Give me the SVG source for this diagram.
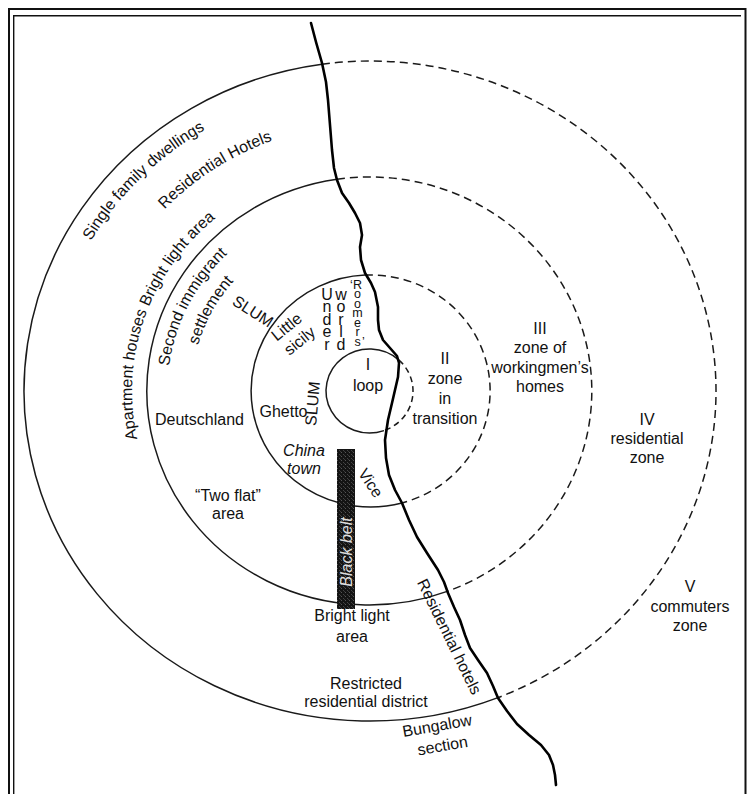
<svg xmlns="http://www.w3.org/2000/svg" width="751" height="794" viewBox="0 0 751 794">
<style>
.t{font-family:"Liberation Sans",Arial,sans-serif;font-size:16px;fill:#111;}
.c{text-anchor:middle;}
.i{font-style:italic;}
.sm{font-size:12.5px;}
.solid{fill:none;stroke:#1a1a1a;stroke-width:1.5;}
.dash{fill:none;stroke:#1a1a1a;stroke-width:1.5;stroke-dasharray:8 5;}
.river{fill:none;stroke:#000;stroke-width:2.6;stroke-linejoin:round;stroke-linecap:round;}
</style>
<defs>
<pattern id="speckle" width="4" height="4" patternUnits="userSpaceOnUse">
<rect width="4" height="4" fill="#141414"/>
<rect x="1" y="0" width="1" height="1" fill="#555"/>
<rect x="3" y="2" width="1" height="1" fill="#444"/>
<rect x="0" y="3" width="1" height="1" fill="#3a3a3a"/>
</pattern>
<path id="pSingle" d="M 59.0 317.3 A 320.5 304.5 0 0 1 281.7 98.3"/>
<path id="pResH" d="M 118.3 273.9 A 280 267 0 0 1 350.5 124.6"/>
<path id="pApt" d="M 157.0 492.3 A 238 227 0 0 1 263.8 187.9"/>
<path id="pSec" d="M 173.4 437.7 A 202.6 193 0 0 1 287.6 214.7"/>
<path id="pSet" d="M 195.7 427.8 A 178.5 170 0 0 1 301.7 233.9"/>
</defs>
<rect width="751" height="794" fill="#fff"/>
<g id="frame">
<path d="M 9 800 L 9 9 L 745.5 9 L 745.5 800" fill="none" stroke="#111" stroke-width="2"/>
<path d="M 13.7 800 L 13.7 15.7 L 741 15.7" fill="none" stroke="#111" stroke-width="1.4"/>
</g>
<g id="connectors">
<g id="zone-boundary-4">
<path class="solid" d="M 322 64.2 A 346 330 0 1 0 498 697.6"/>
<path class="dash" d="M 322 64.2 A 346 330 0 0 1 498 697.6"/>
</g>
<g id="zone-boundary-3">
<path class="solid" d="M 337 179.2 A 222.5 214 0 1 0 448 591.1"/>
<path class="dash" d="M 337 179.2 A 222.5 214 0 0 1 448 591.1"/>
</g>
<g id="zone-boundary-2">
<path class="solid" d="M 365 275.1 A 119.5 116 0 1 0 402 502.9"/>
<path class="dash" d="M 365 275.1 A 119.5 116 0 0 1 402 502.9"/>
</g>
<g id="zone-boundary-1">
<path class="solid" d="M 399 360.1 A 43.5 42 0 1 0 384 430.6"/>
<path class="dash" d="M 399 360.1 A 43.5 42 0 0 1 384 430.6" style="stroke-dasharray:6 4"/>
</g>
<path id="river" class="river" d="M 311 23 L 316 42 L 322 63 L 326 82 L 328 100 L 330 125 L 332 150 L 334 168 L 337 180 L 342 193 L 349 203 L 355 213 L 360 223 L 362 235 L 360 247 L 361 260 L 365 273 L 371 283 L 375 292 L 378 307 L 378 320 L 379 330 L 383 340 L 390 348 L 397 356 L 399 363 L 398 377 L 395 390 L 392 403 L 388 420 L 385 440 L 386 458 L 389 475 L 395 490 L 402 503 L 409 520 L 417 537 L 427 553 L 438 570 L 444 582 L 448 593 L 454 607 L 460 620 L 465 635 L 470 648 L 478 660 L 487 673 L 493 686 L 498 698 L 507 711 L 517 724 L 529 735 L 541 745 L 549 755 L 553 765 L 555 775 L 556 785"/>
</g>
<g id="black-belt">
<rect x="337" y="449" width="18" height="160" fill="url(#speckle)"/>
<text class="t i c" style="fill:#ddd" transform="translate(351.5 552) rotate(-90)">Black belt</text>
</g>
<g id="zone-I">
<text class="t c" x="368" y="370">I</text>
<text class="t c" x="368" y="391">loop</text>
</g>
<g id="zone-II">
<text class="t c" x="445" y="364">II</text>
<text class="t c" x="445" y="384">zone</text>
<text class="t c" x="445" y="404">in</text>
<text class="t c" x="445" y="424">transition</text>
</g>
<g id="zone-III">
<text class="t c" x="540" y="334">III</text>
<text class="t c" x="540" y="353">zone of</text>
<text class="t c" x="540" y="373">workingmen’s</text>
<text class="t c" x="540" y="392">homes</text>
</g>
<g id="zone-IV">
<text class="t c" x="647" y="425">IV</text>
<text class="t c" x="647" y="444">residential</text>
<text class="t c" x="647" y="463">zone</text>
</g>
<g id="zone-V">
<text class="t c" x="690" y="592">V</text>
<text class="t c" x="690" y="612">commuters</text>
<text class="t c" x="690" y="631">zone</text>
</g>
<g id="labels-inner">
<text class="t" transform="translate(318 404) rotate(-85)" text-anchor="middle">SLUM</text>
<text class="t c" x="283.5" y="417">Ghetto</text>
<text class="t c i" x="304" y="456">China</text>
<text class="t c i" x="304" y="474">town</text>
<text class="t c" transform="translate(366 486) rotate(56)">Vice</text>
<text class="t c" transform="translate(290 331) rotate(-39)">Little</text>
<text class="t c" transform="translate(303 345) rotate(-39)">sicily</text>
<g id="under">
<text class="t c" x="327" y="300">U</text>
<text class="t c" x="327" y="312.3">n</text>
<text class="t c" x="327" y="324.5">d</text>
<text class="t c" x="327" y="337">e</text>
<text class="t c" x="327" y="349.5">r</text>
</g>
<g id="world">
<text class="t c" x="341" y="300">w</text>
<text class="t c" x="341" y="312.3">o</text>
<text class="t c" x="341" y="324.5">r</text>
<text class="t c" x="341" y="337">l</text>
<text class="t c" x="341" y="349.5">d</text>
</g>
<g id="roomers">
<text class="t sm" x="350" y="289">‘</text>
<text class="t sm c" x="357.5" y="289">R</text>
<text class="t sm c" x="357.5" y="298">o</text>
<text class="t sm c" x="357.5" y="307.5">o</text>
<text class="t sm c" x="357.5" y="317">m</text>
<text class="t sm c" x="357.5" y="327">e</text>
<text class="t sm c" x="357.5" y="336">r</text>
<text class="t sm c" x="357.5" y="346">s</text>
<text class="t sm" x="362" y="346">’</text>
</g>
<text class="t c" transform="translate(250 316) rotate(33)">SLUM</text>
</g>
<g id="labels-zone3">
<text class="t"><textPath href="#pSec" startOffset="50%" text-anchor="middle">Second immigrant</textPath></text>
<text class="t"><textPath href="#pSet" startOffset="50%" text-anchor="middle">settlement</textPath></text>
<text class="t c" x="199.5" y="425">Deutschland</text>
<text class="t c" x="228" y="501">“Two flat”</text>
<text class="t c" x="228" y="519">area</text>
<text class="t c" x="352" y="621">Bright light</text>
<text class="t c" x="352" y="642">area</text>
</g>
<g id="labels-zone4">
<text class="t"><textPath href="#pApt" startOffset="50%" text-anchor="middle">Apartment houses Bright light area</textPath></text>
<text class="t"><textPath href="#pResH" startOffset="50%" text-anchor="middle">Residential Hotels</textPath></text>
<text class="t"><textPath href="#pSingle" startOffset="50%" text-anchor="middle">Single family dwellings</textPath></text>
<text class="t c" x="366" y="689">Restricted</text>
<text class="t c" x="366" y="707">residential district</text>
<text class="t c" transform="translate(444.5 639) rotate(64)">Residential hotels</text>
<text class="t c" transform="translate(438 731) rotate(-10)">Bungalow</text>
<text class="t c" transform="translate(443.5 751) rotate(-10)">section</text>
</g>
</svg>
